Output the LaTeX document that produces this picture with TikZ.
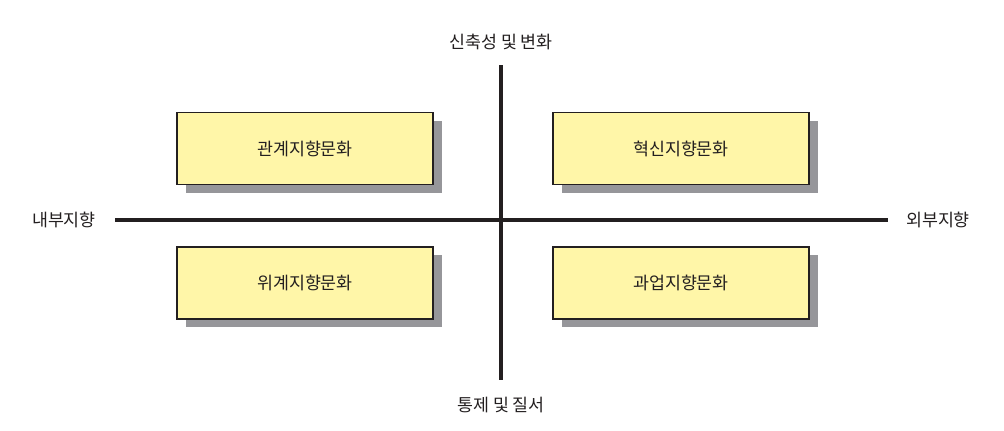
\documentclass[tikz,border=0pt]{standalone}
\usepackage{fontspec}
\setmainfont{Noto Sans CJK KR}
\definecolor{boxfill}{HTML}{FFF6A8}
\definecolor{shad}{HTML}{96969A}
\definecolor{ink}{HTML}{231F20}
\begin{document}
\begin{tikzpicture}[x=0.75pt,y=-0.75pt,
  quad/.style={draw=ink,line width=1.2pt,fill=boxfill,minimum width=192pt,minimum height=54pt,font=\fontsize{13}{15}\selectfont,text=ink},
  shadowbox/.style={fill=shad,minimum width=192pt,minimum height=54pt,draw=none},
  axis/.style={ink,line width=3pt},
  lab/.style={font=\fontsize{13}{15}\selectfont,text=ink}]
\useasboundingbox (0,0) rectangle (1004,430);
\foreach \n/\x/\y/\t in {tl/305/148.5/관계지향문화, tr/681/148.5/혁신지향문화, bl/305/283/위계지향문화, br/681/283/과업지향문화}{
  \node[shadowbox] at (\x+9,\y+8) {};
  \node[quad] (\n) at (\x,\y) {\t};
}
\coordinate (top) at (501,65);
\coordinate (bot) at (501,380);
\coordinate (lft) at (115,220);
\coordinate (rgt) at (888,220);
\draw[axis] (top) -- (bot);
\draw[axis] (lft) -- (rgt);
\node[lab] (tlab) at (501,42) {신축성 및 변화};
\node[lab] (blab) at (501,405) {통제 및 질서};
\node[lab] (llab) at (64,220) {내부지향};
\node[lab] (rlab) at (938,220) {외부지향};
\end{tikzpicture}
\end{document}
